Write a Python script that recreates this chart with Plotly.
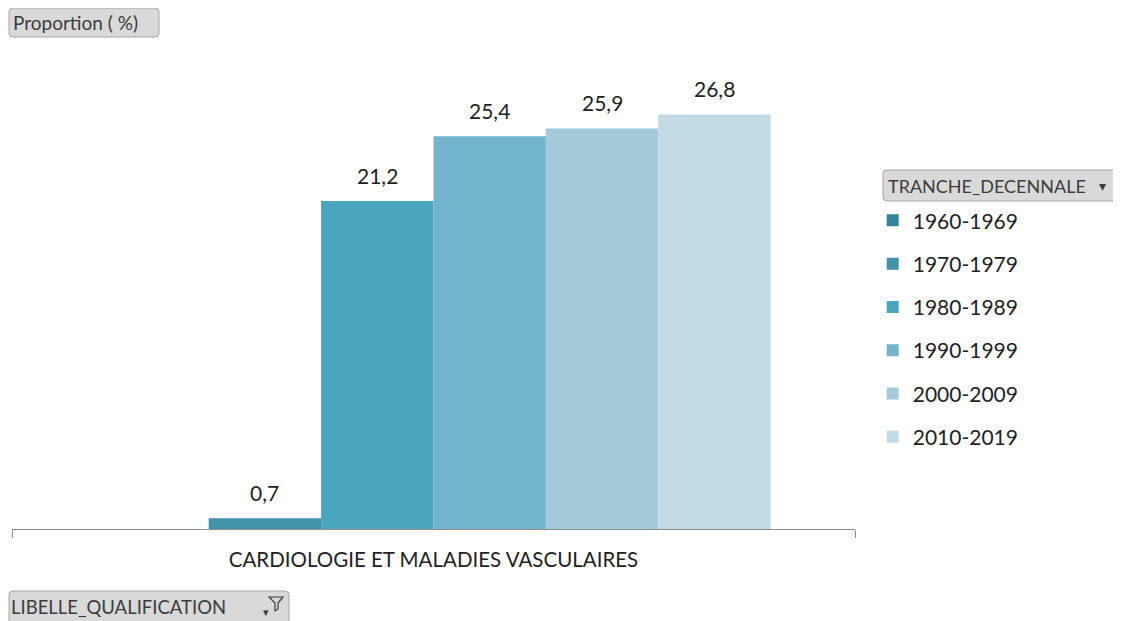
import plotly.graph_objects as go

category = ["CARDIOLOGIE ET MALADIES VASCULAIRES"]
series_names = ["1960-1969", "1970-1979", "1980-1989", "1990-1999", "2000-2009", "2010-2019"]
series_values = [None, 0.7, 21.2, 25.4, 25.9, 26.8]
colors = ["#31859C", "#4193AA", "#4AA5BF", "#72B5CC", "#A2CAD9", "#C2DAE3"]

FONT = "Lato"
W, H = 1113, 613          # page body has an 8px margin
L, R, T, B = 4, 266, 57, 92
PW = W - L - R            # plot width in px
PH = H - T - B            # plot height in px

fig = go.Figure()
for i, (name, val) in enumerate(zip(series_names, series_values)):
    fig.add_trace(go.Bar(
        x=category, y=[val], name=name,
        marker=dict(color=colors[i], line=dict(width=0)),
        legendgroup=name,
        hoverinfo="skip",
    ))

# value labels placed above each bar of the group
n = len(series_names)
group_w = PW * (1 - 0.2)
bar_w = group_w / n
for i, val in enumerate(series_values):
    if val is None:
        continue
    fig.add_annotation(
        x=category[0], y=val, xref="x", yref="y",
        text=f"{val:.1f}".replace(".", ","),
        showarrow=False, xanchor="center", yanchor="bottom",
        xshift=(i - (n - 1) / 2) * bar_w, yshift=11,
        font=dict(family=FONT, size=21, color="#222222"),
    )

fig.update_layout(
    width=W, height=H,
    margin=dict(l=L, r=R, t=T, b=B),
    paper_bgcolor="white", plot_bgcolor="white",
    barmode="group", bargap=0.2, bargroupgap=0,
    separators=", ",
    showlegend=True,
    legend=dict(
        x=1.021, xanchor="left", y=0.7086, yanchor="top",
        font=dict(family=FONT, size=21, color="#222222"),
        tracegroupgap=13,
        bgcolor="rgba(0,0,0,0)",
        itemwidth=30,
    ),
    xaxis=dict(
        range=[-0.5, 0.5], showline=True, linecolor="#8C8C8C", linewidth=1,
        ticks="outside", tickson="boundaries", ticklen=8, tickcolor="#8C8C8C",
        tickfont=dict(family=FONT, size=20.5, color="#222222"),
        ticklabelstandoff=12,
        showgrid=False, fixedrange=True,
    ),
    yaxis=dict(range=[0, 30], visible=False, showgrid=False, zeroline=False),
)

def px_x(px):   # viewport pixel -> paper
    return (px - 8 - L) / PW

def px_y(py):
    return (T + PH - (py - 8)) / PH

def rounded_box(x0, y0, x1, y1, r=4):
    X = px_x
    Y = px_y
    p = (f"M {X(x0 + r)},{Y(y0)} L {X(x1 - r)},{Y(y0)} "
         f"Q {X(x1)},{Y(y0)} {X(x1)},{Y(y0 + r)} L {X(x1)},{Y(y1 - r)} "
         f"Q {X(x1)},{Y(y1)} {X(x1 - r)},{Y(y1)} L {X(x0 + r)},{Y(y1)} "
         f"Q {X(x0)},{Y(y1)} {X(x0)},{Y(y1 - r)} L {X(x0)},{Y(y0 + r)} "
         f"Q {X(x0)},{Y(y0)} {X(x0 + r)},{Y(y0)} Z")
    fig.add_shape(type="path", path=p, xref="paper", yref="paper",
                  fillcolor="#D9D9D9", line=dict(color="#A6A6A6", width=1), layer="above")

def btn_text(text, x, ymid, size=19):
    fig.add_annotation(text=text, x=px_x(x), y=px_y(ymid), xref="paper", yref="paper",
                       showarrow=False, xanchor="left", yanchor="middle",
                       font=dict(family=FONT, size=size, color="#3C3C3C"))

# "Proportion ( %)" field button
rounded_box(9, 8, 159, 37)
btn_text("Proportion ( %)", 11, 22.5)

# "TRANCHE_DECENNALE" field button with dropdown arrow
rounded_box(883, 170, 1125, 201)
btn_text("TRANCHE_DECENNALE", 886, 185.5, size=18)
btn_text("\u25BE", 1097, 185.5, size=14)

# "LIBELLE_QUALIFICATION" field button with filter icon
rounded_box(9, 591, 289, 625)
btn_text("LIBELLE_QUALIFICATION", 9, 607, size=18.5)
btn_text("\u25BE", 261, 611, size=11)
fig.add_shape(type="path", xref="paper", yref="paper",
              path=(f"M {px_x(269)},{px_y(597)} L {px_x(283)},{px_y(597)} "
                    f"L {px_x(278)},{px_y(603)} L {px_x(278)},{px_y(609)} "
                    f"L {px_x(275)},{px_y(611)} L {px_x(275)},{px_y(603)} Z"),
              fillcolor="rgba(0,0,0,0)", line=dict(color="#3C3C3C", width=1.2), layer="above")

fig.write_html("out.html")
